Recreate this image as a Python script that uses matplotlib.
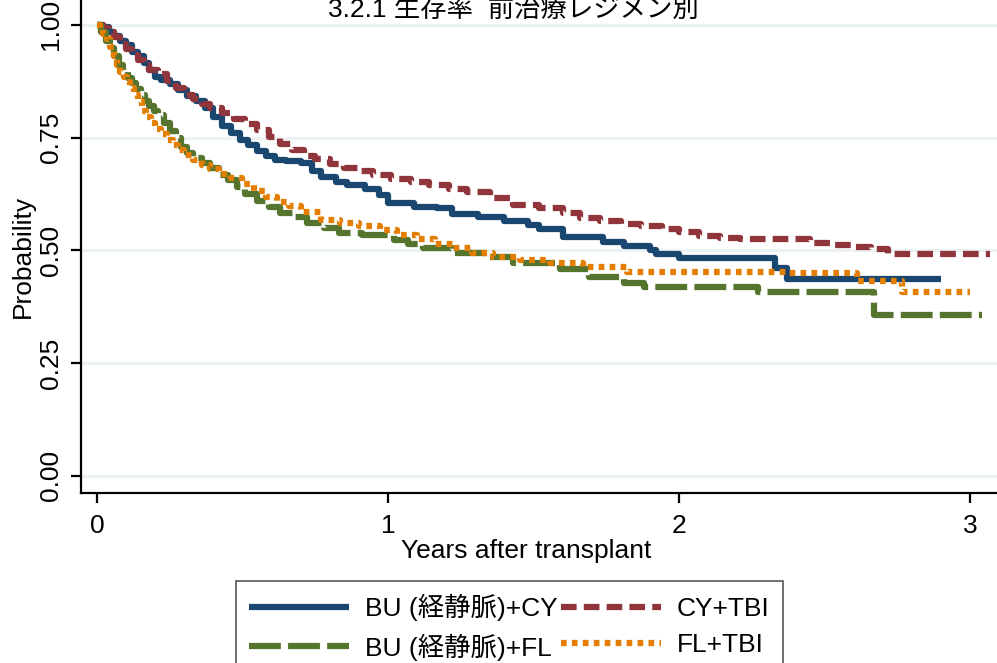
import matplotlib.pyplot as plt

plt.rcParams['font.family'] = ['Liberation Sans', 'Noto Sans CJK JP']

# Kaplan-Meier curves (years, survival probability)
bucy_t = [0, 0.02, 0.04, 0.06, 0.08, 0.10, 0.12, 0.14, 0.16, 0.18, 0.20, 0.22, 0.25,
          0.28, 0.31, 0.34, 0.37, 0.40, 0.43, 0.46, 0.49, 0.52, 0.55, 0.58, 0.61, 0.65,
          0.70, 0.74, 0.77, 0.82, 0.86, 0.92, 0.97, 1.00, 1.09, 1.17, 1.22, 1.31, 1.40,
          1.48, 1.52, 1.60, 1.74, 1.81, 1.90, 1.92, 2.00, 2.33, 2.37, 2.90]
bucy_s = [1.0, 0.995, 0.985, 0.975, 0.965, 0.955, 0.94, 0.93, 0.915, 0.90, 0.885, 0.878, 0.868,
          0.855, 0.842, 0.83, 0.815, 0.795, 0.775, 0.76, 0.745, 0.733, 0.72, 0.71, 0.70, 0.698,
          0.694, 0.675, 0.663, 0.652, 0.645, 0.635, 0.623, 0.605, 0.596, 0.594, 0.581, 0.574, 0.565,
          0.557, 0.548, 0.530, 0.519, 0.510, 0.501, 0.492, 0.483, 0.461, 0.437, 0.437]

cytbi_t = [0, 0.02, 0.04, 0.06, 0.08, 0.10, 0.12, 0.14, 0.16, 0.18, 0.21, 0.24, 0.27,
           0.30, 0.33, 0.36, 0.39, 0.43, 0.47, 0.51, 0.55, 0.59, 0.63, 0.67, 0.71, 0.75,
           0.80, 0.85, 0.90, 0.95, 1.01, 1.08, 1.14, 1.21, 1.27, 1.35, 1.43, 1.52, 1.60,
           1.66, 1.73, 1.80, 1.87, 1.94, 2.00, 2.07, 2.14, 2.21, 2.45, 2.52, 2.60, 2.66, 2.72, 3.07]
cytbi_s = [1.0, 0.993, 0.983, 0.972, 0.958, 0.946, 0.934, 0.922, 0.91, 0.90, 0.89, 0.875, 0.86,
           0.845, 0.835, 0.825, 0.815, 0.805, 0.792, 0.78, 0.767, 0.752, 0.735, 0.722, 0.71, 0.702,
           0.692, 0.683, 0.675, 0.668, 0.659, 0.652, 0.645, 0.637, 0.630, 0.617, 0.601, 0.594, 0.583,
           0.572, 0.566, 0.559, 0.553, 0.548, 0.540, 0.532, 0.528, 0.525, 0.517, 0.512, 0.507, 0.503, 0.492, 0.492]

bufl_t = [0, 0.015, 0.03, 0.045, 0.06, 0.075, 0.09, 0.105, 0.12, 0.135, 0.15, 0.165, 0.18,
          0.195, 0.21, 0.23, 0.25, 0.27, 0.29, 0.31, 0.33, 0.36, 0.39, 0.42, 0.45, 0.48,
          0.51, 0.55, 0.59, 0.63, 0.68, 0.72, 0.78, 0.83, 0.91, 1.02, 1.07, 1.12, 1.22,
          1.34, 1.43, 1.59, 1.69, 1.81, 1.88, 2.27, 2.67, 3.04]
bufl_s = [1.0, 0.985, 0.965, 0.948, 0.93, 0.912, 0.896, 0.882, 0.87, 0.857, 0.845, 0.832, 0.82,
          0.81, 0.80, 0.782, 0.765, 0.748, 0.73, 0.716, 0.705, 0.693, 0.682, 0.668, 0.655, 0.64,
          0.625, 0.61, 0.595, 0.583, 0.575, 0.561, 0.55, 0.539, 0.534, 0.523, 0.515, 0.505, 0.494,
          0.486, 0.472, 0.459, 0.441, 0.428, 0.419, 0.408, 0.357, 0.357]

fltbi_t = [0, 0.01, 0.02, 0.034, 0.045, 0.057, 0.069, 0.08, 0.092, 0.103, 0.115, 0.127, 0.14,
           0.155, 0.17, 0.185, 0.20, 0.22, 0.24, 0.26, 0.28, 0.30, 0.33, 0.36, 0.39, 0.42,
           0.46, 0.50, 0.54, 0.58, 0.62, 0.66, 0.70, 0.77, 0.835, 0.90, 0.973, 1.03, 1.10,
           1.16, 1.223, 1.29, 1.361, 1.454, 1.557, 1.67, 1.82, 2.371, 2.612, 2.766, 3.00]
fltbi_s = [1.0, 0.99, 0.98, 0.968, 0.95, 0.93, 0.911, 0.896, 0.884, 0.874, 0.86, 0.845, 0.83,
           0.81, 0.795, 0.782, 0.77, 0.758, 0.745, 0.734, 0.722, 0.712, 0.70, 0.69, 0.68, 0.67,
           0.66, 0.648, 0.632, 0.618, 0.608, 0.598, 0.585, 0.568, 0.561, 0.553, 0.545, 0.535, 0.525,
           0.515, 0.505, 0.495, 0.486, 0.479, 0.472, 0.463, 0.452, 0.450, 0.432, 0.408, 0.408]

labels = ['BU (経静脈)+CY', 'CY+TBI', 'BU (経静脈)+FL', 'FL+TBI']
yticks = [0, 0.25, 0.5, 0.75, 1.0]
xticks = [0, 1, 2, 3]

fig = plt.figure(figsize=(9.97, 6.63), dpi=100)
ax = fig.add_axes([81 / 997, 1 - 493 / 663, 1 - 81 / 997, 493 / 663])

lw = 4.5
l1, = ax.plot(bucy_t, bucy_s, drawstyle='steps-post', color='#1a476f', lw=lw,
              solid_capstyle='butt')
l2, = ax.plot(cytbi_t, cytbi_s, drawstyle='steps-post', color='#90353b', lw=lw,
              dashes=(2.5, 1.15))
l3, = ax.plot(bufl_t, bufl_s, drawstyle='steps-post', color='#55752f', lw=lw,
              dashes=(5.1, 1.15))
l4, = ax.plot(fltbi_t, fltbi_s, drawstyle='steps-post', color='#e37e00', lw=lw,
              dashes=(0.9, 0.85))

ax.set_xlim(-0.055, 3.093)
ax.set_ylim(-0.038, 1.055)
ax.set_yticks(yticks)
ax.set_yticklabels(['%.2f' % v for v in yticks], rotation=90, va='center')
ax.set_xticks(xticks)
ax.grid(axis='y', color='#eaf2f3', lw=2.2)
ax.set_axisbelow(True)
for s in ['top', 'right']:
    ax.spines[s].set_visible(False)
for s in ['left', 'bottom']:
    ax.spines[s].set_linewidth(1.6)
ax.tick_params(axis='both', length=7, width=1.6, labelsize=19, pad=6)
ax.tick_params(axis='x', pad=8)

ax.set_xlabel('Years after transplant', fontsize=19)
ax.xaxis.set_label_coords(0.486, -0.118)
ax.xaxis.label.set_va('center')
ax.set_ylabel('Probability', fontsize=19)
ax.yaxis.set_label_coords(-0.063, 0.479)
ax.yaxis.label.set_va('center')

fig.text(513 / 997, 1 - 17 / 663, '3.2.1 生存率  前治療レジメン別', fontsize=19,
         ha='center', va='baseline')

leg = fig.legend([l1, l3, l2, l4], [labels[0], labels[2], labels[1], labels[3]],
                 ncol=2, loc='upper left', bbox_to_anchor=(236 / 997, 1 - 581 / 663),
                 fontsize=19, handlelength=3.8, handletextpad=0.6, columnspacing=0.1,
                 labelspacing=0.45, borderpad=0.5, borderaxespad=0,
                 fancybox=False, framealpha=1)
leg.get_frame().set_edgecolor('#555555')
leg.get_frame().set_linewidth(1.2)

fig.savefig('out.png', dpi=100)
